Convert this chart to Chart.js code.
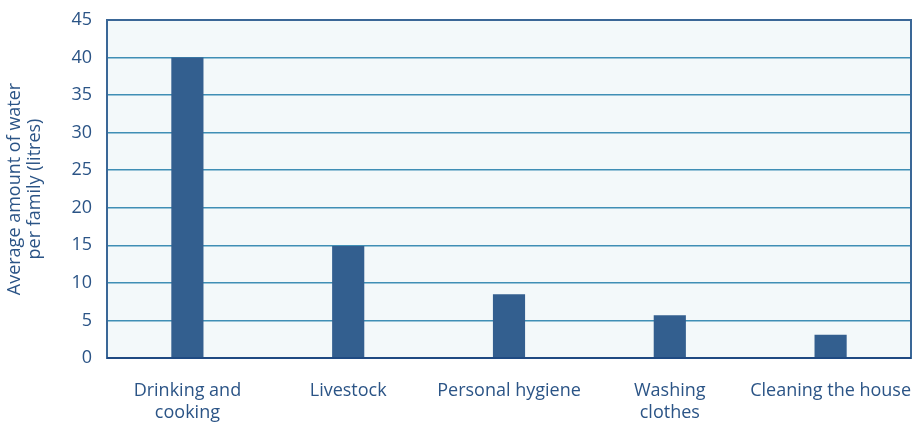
<!DOCTYPE html>
<html>
<head>
<meta charset="utf-8">
<script src="https://cdn.jsdelivr.net/npm/chart.js@4.4.0/dist/chart.umd.min.js"></script>
<style>
  html, body { margin: 0; padding: 0; background: #ffffff; }
  #wrap { width: 917px; height: 422px; }
</style>
</head>
<body>
<div id="wrap"><canvas id="waterChart" width="917" height="422"></canvas></div>
<script>
// chart data
const categories = [['Drinking and', 'cooking'], 'Livestock', 'Personal hygiene', ['Washing', 'clothes'], 'Cleaning the house'];
const litres = [40, 14.9, 8.5, 5.7, 3.1];
const yTicks = [0, 5, 10, 15, 20, 25, 30, 35, 40, 45];
const yTitle = ['Average amount of water', 'per family (litres)'];

const textColor = '#2b5486';
const fontFamily = '"Open Sans", "Liberation Sans", sans-serif';

// plot background + frame
const frame = {
    id: 'frame',
    beforeDraw(chart) {
        const a = chart.chartArea;
        const c = chart.ctx;
        c.save();
        c.fillStyle = '#f3f9fa';
        c.fillRect(a.left, a.top, a.right - a.left, a.bottom - a.top);
        c.restore();
    },
    afterDatasetsDraw(chart) {
        const a = chart.chartArea;
        const c = chart.ctx;
        c.save();
        c.strokeStyle = '#3a6797';
        c.lineWidth = 2;
        c.strokeRect(a.left, a.top, a.right - a.left, a.bottom - a.top);
        c.strokeStyle = '#1f4a82';
        c.beginPath();
        c.moveTo(a.left, a.bottom);
        c.lineTo(a.right, a.bottom);
        c.stroke();
        c.restore();
    }
};

const ctx = document.getElementById('waterChart').getContext('2d');
new Chart(ctx, {
    type: 'bar',
    data: {
        labels: categories,
        datasets: [{
            data: litres,
            backgroundColor: '#335f8f',
            barPercentage: 0.2,
            categoryPercentage: 1
        }]
    },
    options: {
        responsive: false,
        animation: false,
        layout: { padding: { top: 20, right: 6, bottom: 0, left: 0 } },
        plugins: {
            legend: { display: false },
            tooltip: { enabled: false }
        },
        scales: {
            x: {
                grid: { display: false },
                border: { display: false },
                ticks: {
                    color: textColor,
                    font: { family: fontFamily, size: 18 },
                    padding: 14,
                    maxRotation: 0,
                    autoSkip: false
                },
                afterFit(scale) {
                    scale.height = 64;
                    scale.paddingLeft = 0;
                    scale.paddingRight = 0;
                }
            },
            y: {
                min: 0,
                max: 45,
                afterBuildTicks(scale) { scale.ticks = yTicks.map(v => ({ value: v })); },
                grid: { color: '#3f8fb5', lineWidth: 1.5, drawTicks: false },
                border: { display: false },
                ticks: {
                    color: textColor,
                    font: { family: fontFamily, size: 18 },
                    padding: 15
                },
                title: {
                    display: true,
                    text: yTitle,
                    color: textColor,
                    font: { family: fontFamily, size: 18, lineHeight: 1.1 },
                    padding: { top: 5, bottom: 0 }
                },
                afterFit(scale) {
                    scale.width = 107;
                    scale.paddingTop = 0;
                    scale.paddingBottom = 0;
                }
            }
        }
    },
    plugins: [frame]
});
</script>
</body>
</html>
